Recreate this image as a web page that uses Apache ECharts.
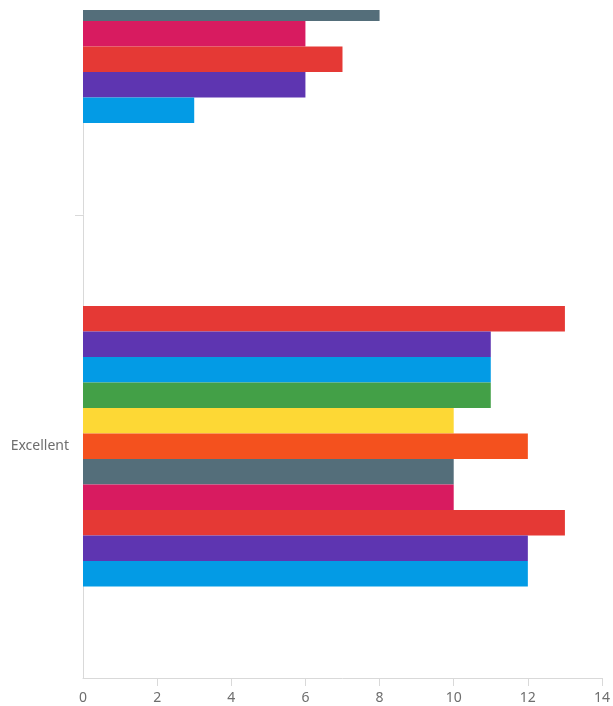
<!DOCTYPE html>
<html>
<head>
<meta charset="utf-8">
<script src="https://cdn.jsdelivr.net/npm/echarts@6/dist/echarts.min.js"></script>
<style>
  html, body { margin: 0; padding: 0; background: #fff; }
  #frame { position: absolute; left: 0; top: 10px; width: 613px; height: 696px; overflow: hidden; }
  #chart { position: absolute; left: 0; top: -269px; width: 613px; height: 965px; }
</style>
</head>
<body>
<div id="frame"><div id="chart"></div></div>
<script>
// Rating categories (bottom to top)
const categories = ['Excellent', 'Good'];

// One bar per team in each rating group, listed top to bottom within a group
const seriesNames = ['Team K', 'Team J', 'Team I', 'Team H', 'Team G', 'Team F',
                     'Team E', 'Team D', 'Team C', 'Team B', 'Team A'];
const seriesColors = ['#E53935', '#5E35B1', '#039BE5', '#43A047', '#FDD835', '#F4511E',
                      '#546E7A', '#D81B60', '#E53935', '#5E35B1', '#039BE5'];

// Counts per team: [Excellent, Good]
const teamK = [13, 5];
const teamJ = [11, 7];
const teamI = [11, 6];
const teamH = [11, 6];
const teamG = [10, 5];
const teamF = [12, 7];
const teamE = [10, 8];
const teamD = [10, 6];
const teamC = [13, 7];
const teamB = [12, 6];
const teamA = [12, 3];
const seriesValues = [teamK, teamJ, teamI, teamH, teamG, teamF, teamE, teamD, teamC, teamB, teamA];

// Value axis ticks
const xTicks = [0, 2, 4, 6, 8, 10, 12, 14];

const axisColor = '#d9d9d9';
const tickLength = 8;
const labelFont = { color: '#6e6e6e', fontSize: 14, fontFamily: 'Noto Sans' };

const chart = echarts.init(document.getElementById('chart'));
chart.setOption({
  animation: false,
  grid: { left: 83, right: 10, top: 10, bottom: 28 },
  xAxis: {
    type: 'value',
    min: xTicks[0],
    max: xTicks[xTicks.length - 1],
    interval: xTicks[1] - xTicks[0],
    axisLine: { show: true, lineStyle: { color: axisColor, width: 1 } },
    axisTick: { show: true, length: tickLength, lineStyle: { color: axisColor }, customValues: xTicks.slice(1) },
    axisLabel: Object.assign({ margin: 13 }, labelFont),
    splitLine: { show: false }
  },
  yAxis: {
    type: 'category',
    data: categories,
    axisLine: { show: true, lineStyle: { color: axisColor, width: 1 } },
    axisTick: { show: false },
    axisLabel: Object.assign({ margin: 14 }, labelFont),
    splitLine: { show: false }
  },
  series: seriesNames.map((name, i) => ({
    name: name,
    type: 'bar',
    data: seriesValues[i],
    itemStyle: { color: seriesColors[i] },
    barGap: '0%',
    barCategoryGap: '39.5%'
  }))
});

// Divider tick between neighbouring rating groups on the category axis
const dividers = [];
for (let i = 1; i < categories.length; i++) {
  const yA = chart.convertToPixel({ yAxisIndex: 0 }, categories[i - 1]);
  const yB = chart.convertToPixel({ yAxisIndex: 0 }, categories[i]);
  const y = Math.round((yA + yB) / 2) + 0.5;
  const x = chart.convertToPixel({ xAxisIndex: 0 }, xTicks[0]);
  dividers.push({
    type: 'line',
    silent: true,
    shape: { x1: x - tickLength, y1: y, x2: x, y2: y },
    style: { stroke: axisColor, lineWidth: 1 }
  });
}
chart.setOption({ graphic: dividers });
</script>
</body>
</html>
